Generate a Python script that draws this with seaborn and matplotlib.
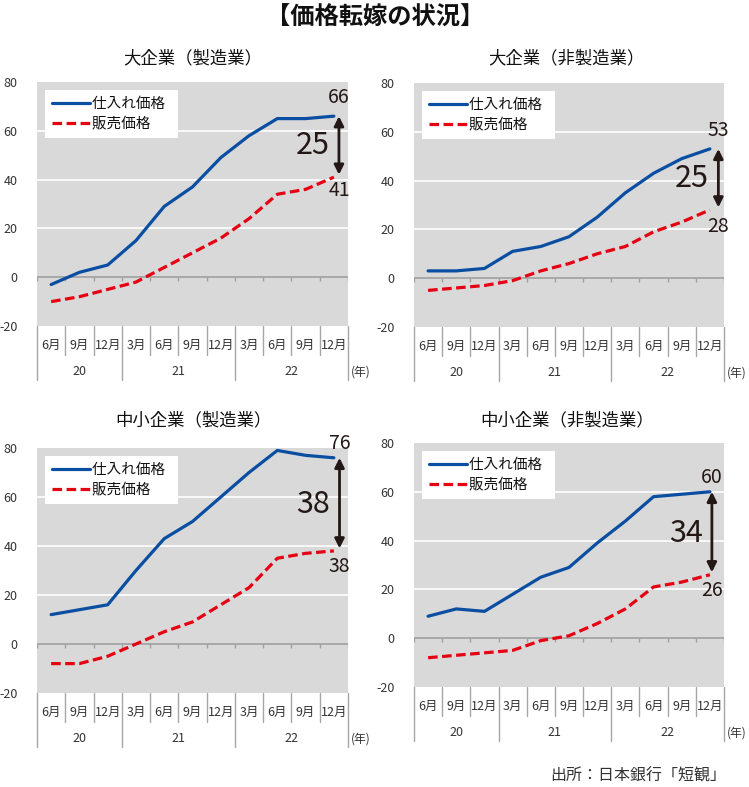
import numpy as np
import pandas as pd
import matplotlib
matplotlib.use("Agg")
import matplotlib.pyplot as plt
import seaborn as sns

# ---------------- data ----------------
months = ['6月', '9月', '12月', '3月', '6月', '9月', '12月', '3月', '6月', '9月', '12月']
years = ['20', '21', '22']
year_counts = [3, 4, 4]
series_names = ['仕入れ価格', '販売価格']

titles = ['大企業（製造業）', '大企業（非製造業）', '中小企業（製造業）', '中小企業（非製造業）']

large_mfg_purchase = [-3, 2, 5, 15, 29, 37, 49, 58, 65, 65, 66]
large_mfg_selling = [-10, -8, -5, -2, 4, 10, 16, 24, 34, 36, 41]
large_nonmfg_purchase = [3, 3, 4, 11, 13, 17, 25, 35, 43, 49, 53]
large_nonmfg_selling = [-5, -4, -3, -1, 3, 6, 10, 13, 19, 23, 28]
small_mfg_purchase = [12, 14, 16, 30, 43, 50, 60, 70, 79, 77, 76]
small_mfg_selling = [-8, -8, -5, 0, 5, 9, 16, 23, 35, 37, 38]
small_nonmfg_purchase = [9, 12, 11, 18, 25, 29, 39, 48, 58, 59, 60]
small_nonmfg_selling = [-8, -7, -6, -5, -1, 1, 6, 12, 21, 23, 26]

yticks = [-20, 0, 20, 40, 60, 80]

main_title = '【価格転嫁の状況】'
source_text = '出所：日本銀行「短観」'
year_unit = '(年)'

# ---------------- style ----------------
sns.set_theme(style='white')
plt.rcParams['font.family'] = ['Noto Sans CJK JP', 'DejaVu Sans']

W, H = 749, 787
fig = plt.figure(figsize=(W / 100, H / 100), dpi=100)
fig.patch.set_facecolor('white')

BLUE = '#0a4ea2'
RED = '#e50012'
BG = '#d9d9d9'
SEP = '#a6a6a6'
DARK = '#231815'
TXT = '#333333'

panels = [
    dict(rect=(37, 82, 348, 326), title_xy=(193, 58), p=large_mfg_purchase, s=large_mfg_selling,
         val_dx=0.18, arr_dx=0.18, hi_off=7.5, lo_off=-5.5, gap_xy=(9.25, 54)),
    dict(rect=(414, 83, 724, 327), title_xy=(566, 58), p=large_nonmfg_purchase, s=large_nonmfg_selling,
         val_dx=0.28, arr_dx=0.3, hi_off=7.5, lo_off=-7.0, gap_xy=(9.35, 41)),
    dict(rect=(37, 448, 348, 693), title_xy=(193, 420), p=small_mfg_purchase, s=small_mfg_selling,
         val_dx=0.2, arr_dx=0.2, hi_off=5.7, lo_off=-6.5, gap_xy=(9.26, 57)),
    dict(rect=(414, 443, 724, 687), title_xy=(567, 420), p=small_nonmfg_purchase, s=small_nonmfg_selling,
         val_dx=0.07, arr_dx=0.07, hi_off=6.0, lo_off=-6.5, gap_xy=(9.15, 43)),
]

n = len(months)
for title, pn in zip(titles, panels):
    l, t, r, b = pn['rect']
    hpx = b - t
    ax = fig.add_axes([l / W, 1 - b / H, (r - l) / W, hpx / H])
    ax.set_facecolor(BG)

    df = pd.DataFrame({
        'pos': list(range(n)) * 2,
        'value': pn['p'] + pn['s'],
        'series': [series_names[0]] * n + [series_names[1]] * n,
    })
    sns.lineplot(data=df, x='pos', y='value', hue='series', style='series',
                 palette={series_names[0]: BLUE, series_names[1]: RED},
                 dashes={series_names[0]: '', series_names[1]: (3, 1.4)},
                 linewidth=2.3, ax=ax, legend=False, sort=False, zorder=4)
    for ln in ax.lines:
        ln.set_solid_joinstyle('round')
        ln.set_dash_capstyle('butt')

    leg = ax.legend(handles=ax.lines[:2], labels=series_names, loc='upper left',
                    bbox_to_anchor=(0.026, 0.967), borderaxespad=0, frameon=True,
                    fancybox=False, facecolor='white', edgecolor='white', framealpha=1,
                    fontsize=10.5, handlelength=2.6, handletextpad=0.15,
                    labelspacing=0.45, borderpad=0.45)
    leg.get_frame().set_linewidth(0)
    # widen the legend box slightly on the right like the reference
    for txt in leg.get_texts():
        txt.set_color('#111111')
        txt.set_text(txt.get_text() + '  ')

    ax.set_xlim(-0.5, n - 0.5)
    ax.set_ylim(-20, 80)
    ax.set_yticks(yticks)
    ax.set_yticklabels([str(v) for v in yticks], fontsize=9, color=TXT)
    ax.tick_params(axis='y', length=0, pad=14)
    ax.set_xticks([])
    ax.set_xlabel('')
    ax.set_ylabel('')
    for sp in ax.spines.values():
        sp.set_visible(False)
    for yv in [20, 40, 60]:
        ax.axhline(yv, color='white', lw=1.2, zorder=1)
    ax.axhline(0, color='#a0a0a0', lw=1.2, zorder=2)
    bounds = np.arange(n + 1) - 0.5
    ax.vlines(bounds, -1.7, 0, color='#a0a0a0', lw=1.0, zorder=2)

    # category axis below
    tr = ax.get_xaxis_transform()
    m_y = -19 / hpx
    y_y = -46 / hpx
    m_sep = -29 / hpx
    y_sep = -54 / hpx
    for i, mlab in enumerate(months):
        ax.text(i, m_y, mlab, transform=tr, ha='center', va='center', fontsize=9, color=TXT)
    year_bounds = [0]
    for c in year_counts:
        year_bounds.append(year_bounds[-1] + c)
    for k in range(n + 1):
        ybot = y_sep if k in year_bounds else m_sep
        ax.plot([k - 0.5, k - 0.5], [0, ybot], transform=tr, color=SEP, lw=1.0, clip_on=False)
    for yi, ylab in enumerate(years):
        cx = (year_bounds[yi] + year_bounds[yi + 1]) / 2 - 0.5
        ax.text(cx, y_y, ylab, transform=tr, ha='center', va='center', fontsize=9, color=TXT)
    ax.text(n - 0.4, y_y, year_unit, transform=tr, ha='left', va='center', fontsize=8.5, color=TXT)

    # annotations
    hi = pn['p'][-1]
    lo = pn['s'][-1]
    xl = n - 1
    ax.text(xl + pn['val_dx'], hi + pn['hi_off'], str(hi), ha='center', va='center',
            fontsize=14, color=DARK, zorder=6)
    ax.text(xl + pn['val_dx'], lo + pn['lo_off'], str(lo), ha='center', va='center',
            fontsize=14, color=DARK, zorder=6)
    ax.annotate('', xy=(xl + pn['arr_dx'], lo + 1), xytext=(xl + pn['arr_dx'], hi),
                arrowprops=dict(arrowstyle='<|-|>', color=DARK, lw=2.0, mutation_scale=14,
                                shrinkA=0, shrinkB=0), zorder=6)
    ax.text(pn['gap_xy'][0], pn['gap_xy'][1], str(hi - lo), ha='center', va='center',
            fontsize=22, color=DARK, zorder=6)

    fig.text(pn['title_xy'][0] / W, 1 - pn['title_xy'][1] / H, title, ha='center', va='center',
             fontsize=12.5, color='#111111')

fig.text(375 / W, 1 - 18 / H, main_title, ha='center', va='center', fontsize=17.5,
         fontweight='bold', color='#111111')
fig.text(726 / W, 1 - 776 / H, source_text, ha='right', va='center', fontsize=11.5, color=TXT)

fig.savefig('out.png', dpi=100, facecolor='white')
